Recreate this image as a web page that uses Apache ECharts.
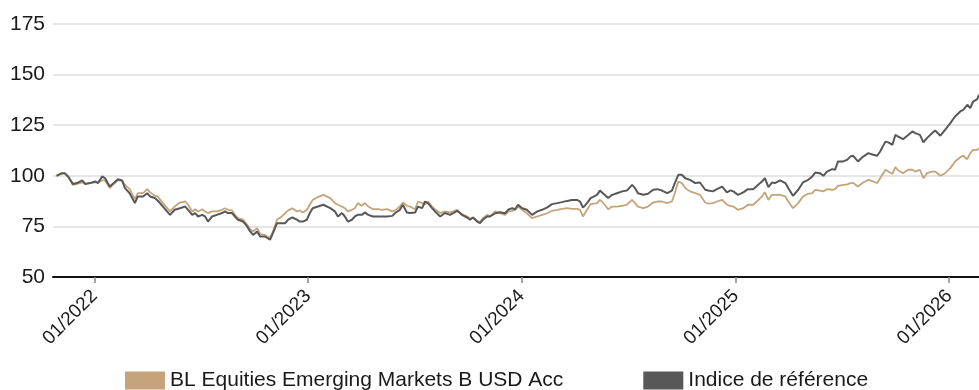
<!DOCTYPE html>
<html>
<head>
<meta charset="utf-8">
<script src="https://cdn.jsdelivr.net/npm/echarts@6/dist/echarts.min.js"></script>
<style>
  html, body { margin: 0; padding: 0; background: #fff; }
  #chart { width: 979px; height: 390px; }
</style>
</head>
<body>
<div id="chart"></div>
<script>
// Performance base 100: fund vs. benchmark
const seriesNames = ['BL Equities Emerging Markets B USD Acc', 'Indice de référence'];

const dates = [
  '2021-10-28','2021-11-06','2021-11-11','2021-11-17','2021-11-25','2021-12-02','2021-12-11','2021-12-16','2021-12-24',
  '2022-01-02','2022-01-07','2022-01-14','2022-01-19','2022-01-27','2022-02-01','2022-02-10','2022-02-17','2022-02-22',
  '2022-03-02','2022-03-11','2022-03-16','2022-03-25','2022-04-01','2022-04-06','2022-04-14','2022-04-19','2022-04-28',
  '2022-05-10','2022-05-18','2022-05-27','2022-06-05','2022-06-10','2022-06-17','2022-06-22','2022-06-27','2022-07-04',
  '2022-07-09','2022-07-14','2022-07-21','2022-07-29','2022-08-07','2022-08-12','2022-08-17','2022-08-24','2022-08-29',
  '2022-09-03','2022-09-12','2022-09-19','2022-09-24','2022-09-29','2022-10-06','2022-10-11','2022-10-19','2022-10-28',
  '2022-11-02','2022-11-09','2022-11-17','2022-11-23','2022-11-28','2022-12-05','2022-12-13','2022-12-18','2022-12-23',
  '2022-12-30','2023-01-04','2023-01-09','2023-01-18','2023-01-27','2023-02-08','2023-02-16','2023-02-21','2023-02-28',
  '2023-03-05','2023-03-10','2023-03-17','2023-03-22','2023-03-27','2023-04-03','2023-04-08','2023-04-14','2023-04-22',
  '2023-05-01','2023-05-07','2023-05-16','2023-05-25','2023-05-30','2023-06-07','2023-06-12','2023-06-19','2023-06-24',
  '2023-07-03','2023-07-08','2023-07-15','2023-07-20','2023-07-25','2023-08-01','2023-08-06','2023-08-15','2023-08-23',
  '2023-09-01','2023-09-06','2023-09-13','2023-09-21','2023-09-30','2023-10-05','2023-10-10','2023-10-17','2023-10-22',
  '2023-10-27','2023-11-03','2023-11-08','2023-11-17','2023-11-25','2023-12-04','2023-12-09','2023-12-16','2023-12-21',
  '2023-12-26','2024-01-02','2024-01-10','2024-01-19','2024-01-28','2024-02-05','2024-02-14','2024-02-22','2024-03-02',
  '2024-03-10','2024-03-19','2024-03-27','2024-04-05','2024-04-10','2024-04-15','2024-04-22','2024-04-28','2024-05-09',
  '2024-05-14','2024-05-19','2024-05-28','2024-06-04','2024-06-12','2024-06-21','2024-06-29','2024-07-08','2024-07-13',
  '2024-07-18','2024-07-27','2024-08-04','2024-08-13','2024-08-20','2024-08-28','2024-09-06','2024-09-14','2024-09-19',
  '2024-09-25','2024-10-01','2024-10-07','2024-10-15','2024-10-24','2024-11-01','2024-11-10','2024-11-15','2024-11-23',
  '2024-11-30','2024-12-09','2024-12-17','2024-12-23','2024-12-28','2025-01-05','2025-01-14','2025-01-22','2025-01-31',
  '2025-02-08','2025-02-15','2025-02-20','2025-02-26','2025-03-04','2025-03-09','2025-03-18','2025-03-27','2025-04-01',
  '2025-04-09','2025-04-18','2025-04-26','2025-05-05','2025-05-12','2025-05-17','2025-05-25','2025-05-31','2025-06-06',
  '2025-06-15','2025-06-20','2025-06-25','2025-07-04','2025-07-11','2025-07-16','2025-07-21','2025-07-29','2025-08-07',
  '2025-08-16','2025-08-24','2025-08-31','2025-09-05','2025-09-14','2025-09-19','2025-09-26','2025-10-01','2025-10-06',
  '2025-10-14','2025-10-23','2025-10-30','2025-11-04','2025-11-12','2025-11-18','2025-11-24','2025-12-03','2025-12-08',
  '2025-12-17','2025-12-25','2026-01-03','2026-01-11','2026-01-20','2026-01-25','2026-02-01','2026-02-06','2026-02-11',
  '2026-02-18','2026-02-21'
];

const fundValues = [
  100.0,101.0,101.3,99.3,95.5,96.0,96.7,96.0,96.4,
  96.7,96.9,97.7,97.7,93.9,95.5,97.7,97.7,95.5,
  93.4,88.5,91.4,91.4,93.4,91.8,90.1,89.8,86.5,
  82.4,84.8,86.8,87.3,85.7,82.4,83.5,82.4,83.5,
  82.4,81.6,82.4,82.4,83.2,84.0,83.2,82.9,80.7,
  79.1,78.3,75.8,73.6,72.5,74.1,71.3,70.8,69.2,
  72.5,78.3,79.9,81.6,82.9,84.0,82.4,82.9,81.9,
  83.2,85.7,88.1,89.5,90.6,89.0,86.5,85.7,84.8,
  84.0,82.4,83.2,84.0,86.5,85.2,86.5,84.8,83.5,
  83.5,83.2,83.5,82.4,82.9,84.8,86.8,85.2,84.8,
  83.5,87.3,86.5,85.7,87.3,84.8,83.5,81.6,82.4,
  81.9,82.4,83.2,81.1,79.9,78.8,79.4,77.8,77.1,
  79.1,80.7,79.9,82.4,81.5,80.7,82.4,82.7,83.2,
  84.8,83.2,81.5,79.1,79.9,80.7,81.5,82.7,83.2,
  83.7,84.0,83.7,83.7,83.2,79.9,83.2,86.0,86.5,
  88.1,86.8,83.5,84.8,84.8,85.2,85.7,88.1,86.5,
  84.8,84.0,84.8,86.8,87.3,87.3,86.5,87.3,91.4,
  97.2,96.4,93.9,92.3,91.4,90.6,86.8,86.2,86.5,
  87.3,88.1,85.7,85.1,84.8,83.2,84.0,85.7,85.7,
  87.8,89.8,91.8,88.1,90.6,90.6,90.6,89.8,87.3,
  84.0,86.5,89.8,91.1,91.4,93.1,92.7,92.3,93.4,
  93.1,93.4,95.0,95.5,95.8,96.4,96.4,94.7,96.7,
  98.0,97.2,96.4,98.8,103.0,102.1,101.0,104.3,102.6,
  101.3,103.0,103.0,102.1,103.0,98.8,101.3,102.1,102.1,
  100.0,101.3,103.8,107.1,109.2,109.9,108.2,111.2,112.8,
  112.8,113.7
];

const benchmarkValues = [
  100.0,101.3,101.3,99.7,96.0,96.4,97.7,96.0,96.4,
  97.2,96.4,99.7,98.8,94.7,96.0,98.3,97.7,93.9,
  91.4,86.5,89.8,89.8,91.4,89.8,89.0,87.8,84.8,
  80.7,83.2,84.0,84.8,83.2,80.7,81.6,79.9,80.7,
  79.9,77.4,79.9,80.7,81.6,82.4,81.6,81.6,79.9,
  78.3,77.4,75.0,72.5,70.8,72.5,70.0,70.0,68.4,
  71.7,76.6,76.6,76.6,78.3,79.4,78.3,77.4,77.4,
  78.3,81.6,84.0,84.8,85.7,84.0,82.4,79.9,81.6,
  79.9,77.4,78.3,79.9,80.7,80.7,81.9,80.7,79.9,
  79.9,79.9,79.9,80.2,81.6,83.2,85.7,81.9,81.6,
  81.9,84.8,84.0,87.3,86.5,84.0,82.4,79.9,81.6,
  80.7,81.5,82.7,80.7,79.4,78.3,79.4,77.4,76.6,
  78.3,79.9,79.9,81.5,82.0,81.5,83.2,84.0,83.5,
  85.7,84.0,83.2,80.7,82.4,83.2,84.4,86.0,86.5,
  87.0,87.6,88.0,88.1,87.3,84.3,86.5,89.0,90.6,
  92.7,91.4,89.0,90.6,91.4,92.3,92.7,95.5,93.9,
  91.4,90.6,91.1,93.1,93.4,92.7,91.4,92.7,96.4,
  100.5,100.5,98.8,98.0,96.4,96.7,93.1,92.7,92.3,
  93.4,94.7,91.8,92.8,92.3,90.6,91.8,93.4,93.4,
  95.5,97.2,98.8,94.4,96.7,96.4,97.7,96.4,93.9,
  90.1,93.1,96.7,98.0,99.7,101.6,101.3,100.0,102.1,
  103.3,103.0,107.1,107.1,108.0,109.5,109.9,107.1,109.5,
  111.2,110.4,109.9,112.0,116.9,116.5,115.3,120.2,119.4,
  118.1,120.2,121.9,121.1,120.2,116.5,118.6,121.1,122.4,
  119.8,122.7,126.0,129.3,131.8,132.6,135.1,133.4,136.7,
  137.9,140.0
];

// Yearly ticks along the date axis
const tickDates = ['2022-01-01', '2023-01-01', '2024-01-01', '2025-01-01', '2026-01-01'];
const tickLabels = ['01/2022', '01/2023', '01/2024', '01/2025', '01/2026'];
const yTicks = [50, 75, 100, 125, 150, 175];

const axisStart = '2021-10-22';
const axisEnd = '2026-02-21';

const fundColor = '#C5A47B';
const benchColor = '#585858';

const toTs = d => new Date(d + 'T00:00:00Z').getTime();
const tickTs = tickDates.map(toTs);

const chart = echarts.init(document.getElementById('chart'), null, { renderer: 'canvas' });

chart.setOption({
  animation: false,
  backgroundColor: '#ffffff',
  textStyle: { fontFamily: 'Liberation Sans, Arial, sans-serif' },
  grid: { left: 53, right: 0, top: 24, bottom: 113, containLabel: false },
  legend: {
    top: 365,
    left: 120,
    icon: 'rect',
    itemWidth: 40,
    itemHeight: 18,
    itemGap: 80,
    textStyle: { fontSize: 21, color: '#1a1a1a' },
    data: seriesNames
  },
  xAxis: {
    type: 'value',
    min: toTs(axisStart),
    max: toTs(axisEnd),
    axisLine: { show: true, lineStyle: { color: '#111', width: 2 } },
    axisTick: {
      show: true,
      customValues: tickTs,
      length: 6,
      lineStyle: { color: '#888', width: 1.5 }
    },
    axisLabel: {
      customValues: tickTs,
      rotate: 45,
      margin: 16,
      fontSize: 19,
      color: '#1a1a1a',
      formatter: v => {
        const i = tickTs.indexOf(v);
        return i >= 0 ? tickLabels[i] : '';
      }
    },
    splitLine: { show: false }
  },
  yAxis: {
    type: 'value',
    min: yTicks[0],
    max: yTicks[yTicks.length - 1],
    interval: 25,
    axisLine: { show: false },
    axisTick: { show: false },
    axisLabel: { fontSize: 21, color: '#1a1a1a', margin: 8 },
    splitLine: { show: true, lineStyle: { color: '#dcdcdc', width: 1.5 } }
  },
  series: [
    {
      name: seriesNames[0],
      type: 'line',
      data: dates.map((d, i) => [toTs(d), fundValues[i]]),
      showSymbol: false,
      symbol: 'none',
      color: fundColor,
      lineStyle: { color: fundColor, width: 1.8 },
      z: 2
    },
    {
      name: seriesNames[1],
      type: 'line',
      data: dates.map((d, i) => [toTs(d), benchmarkValues[i]]),
      showSymbol: false,
      symbol: 'none',
      color: benchColor,
      lineStyle: { color: benchColor, width: 2 },
      z: 3
    }
  ]
});
</script>
</body>
</html>
